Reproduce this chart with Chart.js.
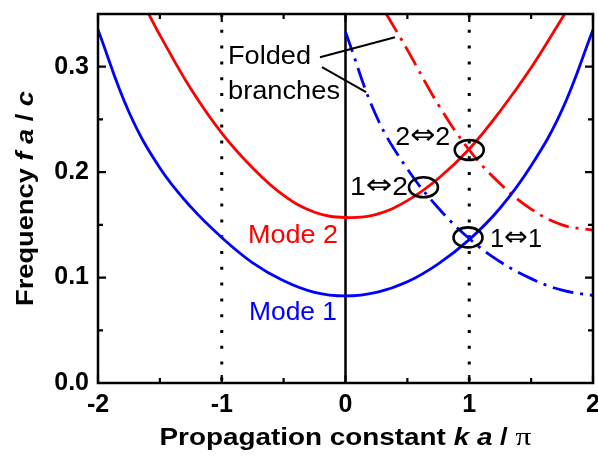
<!DOCTYPE html>
<html>
<head>
<meta charset="utf-8">
<script src="https://cdn.jsdelivr.net/npm/chart.js@4/dist/chart.umd.min.js"></script>
<style>
html,body{margin:0;padding:0;background:#fff;}
canvas{display:block;}
</style>
</head>
<body>
<canvas id="c" width="598" height="456"></canvas>
<script>
// ---------- data ----------
const kMode1 = [-2, -1.75, -1.5, -1.25, -1, -0.75, -0.5, -0.25, 0, 0.25, 0.5, 0.75, 1, 1.25, 1.5, 1.75, 2];
const fMode1 = [0.335, 0.257, 0.204, 0.167, 0.138, 0.114, 0.097, 0.086, 0.0826, 0.086, 0.096, 0.113, 0.136, 0.166, 0.206, 0.259, 0.335];

const kMode2 = [-1.59, -1.5, -1.25, -1, -0.75, -0.5, -0.25, 0, 0.25, 0.5, 0.75, 1, 1.25, 1.5, 1.75, 1.77];
const fMode2 = [0.35, 0.330, 0.279, 0.237, 0.204, 0.178, 0.162, 0.157, 0.160, 0.173, 0.194, 0.222, 0.258, 0.299, 0.346, 0.35];

const kFold1 = [0, 0.25, 0.5, 0.75, 1, 1.25, 1.5, 1.75, 2];
const fFold1 = [0.333, 0.253, 0.203, 0.166, 0.137, 0.115, 0.099, 0.088, 0.083];

const kFold2 = [0.33, 0.5, 0.75, 1, 1.25, 1.5, 1.75, 2];
const fFold2 = [0.35, 0.316, 0.264, 0.221, 0.189, 0.165, 0.150, 0.145];

const xTickValues = [-2, -1, 0, 1, 2];
const xTickLabels = ['-2', '-1', '0', '1', '2'];
const xMinorTicks = [-1.5, -0.5, 0.5, 1.5];
const yTickValues = [0, 0.1, 0.2, 0.3];
const yTickLabels = ['0.0', '0.1', '0.2', '0.3'];
const yMinorTicks = [0.05, 0.15, 0.25];
const yRange = [0, 0.35];

const dottedGuides = [-1, 1];
const solidGuides = [0];

const crossK = [1.0, 0.63, 0.99];
const crossF = [0.221, 0.1856, 0.1381];
const crossLabels = [['2', '\u21D4', '2'], ['1', '\u21D4', '2'], ['1', '\u21D4', '1']];

const modeLabels = ['Mode 2', 'Mode 1'];
const foldedText = ['Folded', 'branches'];
// pointer lines of "Folded branches": [k0, f0, k1, f1]
const pointerLines = [[-0.206, 0.309, 0.40, 0.328], [-0.19, 0.2997, 0.166, 0.276]];

const xTitleRuns = ['Propagation constant ', 'k a', ' / ', '\u03C0'];
const yTitleRuns = ['Frequency ', 'f a', ' / ', 'c'];

// ---------- helpers ----------
const SANS = "'Liberation Sans', Arial, Helvetica, sans-serif";
const SERIF = "'Liberation Serif', 'Times New Roman', serif";
const ARROW = "'DejaVu Sans', sans-serif";
const RED = '#ff0000', BLUE = '#0000ff';

function pts(ks, fs) { return ks.map((k, i) => ({x: k, y: fs[i]})); }
function vline(k) { return [{x: k, y: yRange[1]}, {x: k, y: yRange[0]}]; }

function drawRuns(ctx, runs, x, y, width, align) {
  ctx.save();
  let total = 0;
  runs.forEach(r => { ctx.font = r.font; r.w = ctx.measureText(r.text).width; total += r.w; });
  const s = width ? width / total : 1;
  ctx.translate(x, y);
  ctx.scale(s, 1);
  let cx = align === 'center' ? -total / 2 : (align === 'right' ? -total : 0);
  ctx.textBaseline = 'alphabetic';
  ctx.textAlign = 'left';
  runs.forEach(r => { ctx.font = r.font; ctx.fillStyle = r.color || '#000'; ctx.fillText(r.text, cx, r.dy || 0); cx += r.w; });
  ctx.restore();
}

const overlay = {
  id: 'overlay',
  afterDatasetsDraw(chart) {
    const {ctx, chartArea: a, scales: {x, y}} = chart;
    ctx.save();
    // frame
    ctx.strokeStyle = '#000';
    ctx.lineWidth = 2.5;
    ctx.lineCap = 'square';
    ctx.strokeRect(a.left, a.top, a.right - a.left, a.bottom - a.top);
    ctx.lineCap = 'butt';
    // inward ticks
    const tick = (vals, len, horiz) => {
      vals.forEach(v => {
        ctx.beginPath();
        if (horiz) {
          const px = x.getPixelForValue(v);
          ctx.moveTo(px, a.bottom); ctx.lineTo(px, a.bottom - len);
          ctx.moveTo(px, a.top); ctx.lineTo(px, a.top + len);
        } else {
          const py = y.getPixelForValue(v);
          ctx.moveTo(a.left, py); ctx.lineTo(a.left + len, py);
          ctx.moveTo(a.right, py); ctx.lineTo(a.right - len, py);
        }
        ctx.stroke();
      });
    };
    ctx.lineWidth = 2.2;
    tick(xTickValues, 8, true);
    tick(xMinorTicks, 5, true);
    tick(yTickValues, 8, false);
    tick(yMinorTicks, 5, false);

    // crossing ellipses + labels
    ctx.lineWidth = 2.6;
    const labelPos = [[-19, -5, 'right', 55], [-15.5, 7.5, 'right', 58], [22, 9.5, 'left', 52]];
    crossK.forEach((k, i) => {
      const cx = x.getPixelForValue(k), cy = y.getPixelForValue(crossF[i]);
      ctx.beginPath();
      ctx.ellipse(cx, cy, 14.5, 10, 0, 0, Math.PI * 2);
      ctx.stroke();
      const lp = labelPos[i], t = crossLabels[i];
      drawRuns(ctx, [
        {text: t[0], font: '25px ' + SANS},
        {text: t[1], font: '28px ' + ARROW, dy: -1},
        {text: t[2], font: '25px ' + SANS}
      ], cx + lp[0], cy + lp[1], lp[3], lp[2]);
    });

    // mode labels
    drawRuns(ctx, [{text: modeLabels[0], font: '25px ' + SANS, color: RED}], 248, 243, 90, 'left');
    drawRuns(ctx, [{text: modeLabels[1], font: '25px ' + SANS, color: BLUE}], 249, 320, 88, 'left');

    // folded branches text + pointers
    drawRuns(ctx, [{text: foldedText[0], font: '25px ' + SANS}], 228, 64, 83, 'left');
    drawRuns(ctx, [{text: foldedText[1], font: '25px ' + SANS}], 228, 99, 112, 'left');
    ctx.lineWidth = 2;
    pointerLines.forEach(p => {
      ctx.beginPath();
      ctx.moveTo(x.getPixelForValue(p[0]), y.getPixelForValue(p[1]));
      ctx.lineTo(x.getPixelForValue(p[2]), y.getPixelForValue(p[3]));
      ctx.stroke();
    });

    // axis titles
    const B = 'bold 23px ' + SANS, BI = 'italic bold 23px ' + SANS;
    drawRuns(ctx, [
      {text: xTitleRuns[0], font: B}, {text: xTitleRuns[1], font: BI},
      {text: xTitleRuns[2], font: B}, {text: xTitleRuns[3], font: '26px ' + SERIF}
    ], (a.left + a.right) / 2, 445, 372, 'center');

    ctx.save();
    ctx.translate(33, (a.top + a.bottom) / 2);
    ctx.rotate(-Math.PI / 2);
    const B2 = 'bold 24px ' + SANS, BI2 = 'italic bold 24px ' + SANS;
    drawRuns(ctx, [
      {text: yTitleRuns[0], font: B2}, {text: yTitleRuns[1], font: BI2},
      {text: yTitleRuns[2], font: B2}, {text: yTitleRuns[3], font: BI2}
    ], 0, 0, 215, 'center');
    ctx.restore();
    ctx.restore();
  }
};

const dashDot = [21, 7, 3, 7];
const lineDS = (data, color, extra) => Object.assign({
  data, borderColor: color, borderWidth: 2.8, pointRadius: 0, fill: false,
  tension: 0.4, showLine: true, order: 0
}, extra || {});

const datasets = [
  lineDS(pts(kMode1, fMode1), BLUE),
  lineDS(pts(kMode2, fMode2), RED),
  lineDS(pts(kFold1, fFold1), BLUE, {borderDash: dashDot}),
  lineDS(pts(kFold2, fFold2), RED, {borderDash: dashDot}),
];
dottedGuides.forEach(k => datasets.push(lineDS(vline(k), '#000', {borderWidth: 3, borderDash: [3, 12.8], tension: 0, order: 5})));
solidGuides.forEach(k => datasets.push(lineDS(vline(k), '#000', {borderWidth: 2.5, tension: 0, order: 5})));

new Chart(document.getElementById('c'), {
  type: 'line',
  data: {datasets},
  options: {
    responsive: false,
    animation: false,
    events: [],
    layout: {padding: {left: 0, top: 14, right: 5, bottom: 0}},
    plugins: {legend: {display: false}, tooltip: {enabled: false}},
    scales: {
      x: {
        type: 'linear', min: -2, max: 2,
        afterBuildTicks: s => { s.ticks = xTickValues.map(v => ({value: v})); },
        afterFit: s => { s.height = 73; s.paddingLeft = 0; s.paddingRight = 0; },
        ticks: {
          font: {family: SANS, weight: 'bold', size: 25}, color: '#000', padding: 7,
          maxRotation: 0, autoSkip: false,
          callback: (v) => xTickLabels[xTickValues.indexOf(v)]
        },
        grid: {display: false, drawTicks: false},
        border: {display: false}
      },
      y: {
        type: 'linear', min: yRange[0], max: yRange[1],
        afterBuildTicks: s => { s.ticks = yTickValues.map(v => ({value: v})); },
        afterFit: s => { s.width = 98; s.paddingTop = 0; s.paddingBottom = 0; },
        ticks: {
          font: {family: SANS, weight: 'bold', size: 25}, color: '#000', padding: 9,
          autoSkip: false,
          callback: (v) => yTickLabels[yTickValues.indexOf(v)]
        },
        grid: {display: false, drawTicks: false},
        border: {display: false}
      }
    }
  },
  plugins: [overlay]
});
</script>
</body>
</html>
